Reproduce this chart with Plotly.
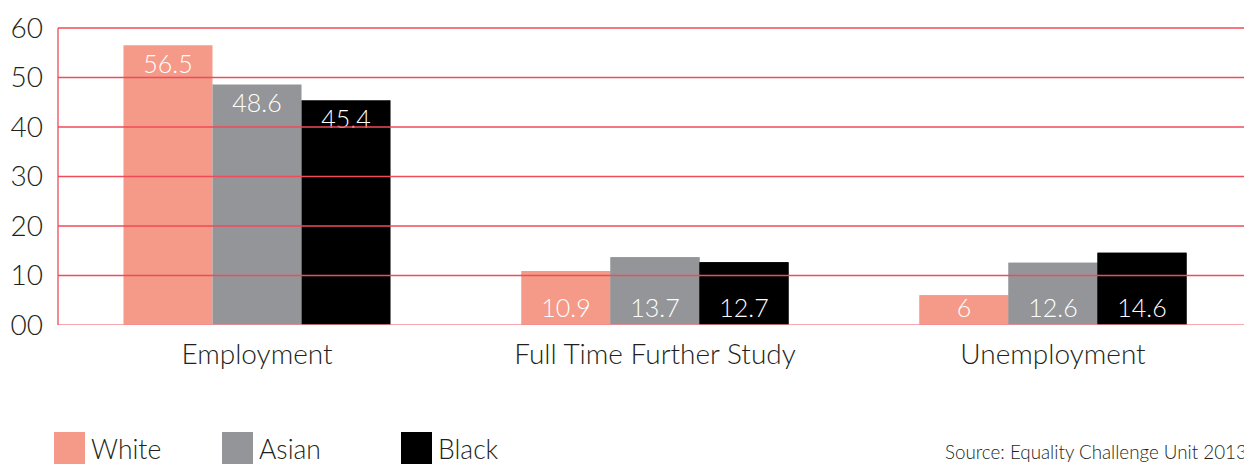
import plotly.graph_objects as go

categories = ["Employment", "Full Time Further Study", "Unemployment"]
series_names = ["White", "Asian", "Black"]
white = [56.5, 10.9, 6]
asian = [48.6, 13.7, 12.6]
black = [45.4, 12.7, 14.6]
tick_vals = [0, 10, 20, 30, 40, 50, 60]
tick_text = ["00", "10", "20", "30", "40", "50", "60"]
source_text = "Source: Equality Challenge Unit 2013"

colors = ["#f59a88", "#939598", "#000000"]
values = [white, asian, black]

# page body adds an 8px margin, so figure coords = screen coords - 8
OFF = 8
W, H = 1252, 464
ML, MR, MT, MB = 58 - OFF, OFF, 28 - OFF - 2, H - (325 - OFF)
PW, PH = W - ML - MR, H - MT - MB

def px_x(p):
    return (p - OFF - ML) / PW

def px_y(p):
    return (H - MB - (p - OFF)) / PH

FONT = "Lato"
TXT = "#231f20"
GRID = "#ef4b5a"

fig = go.Figure()

def fmt(v):
    return f"{v:g}"

for name, vals, col in zip(series_names, values, colors):
    # first category: label anchored at the top of the bar
    fig.add_trace(go.Bar(
        x=categories, y=vals, name=name, marker=dict(color=col, line=dict(width=0)),
        offsetgroup=name,
        text=[fmt(vals[0]), "", ""], textposition="inside", insidetextanchor="end",
        textangle=0, constraintext="none",
        textfont=dict(family=FONT, size=25, color="white", weight=300),
        hoverinfo="skip", showlegend=False,
    ))
    # other categories: label anchored at the bottom of the bar
    fig.add_trace(go.Bar(
        x=categories[1:], y=vals[1:], name=name, marker=dict(color=col, line=dict(width=0)),
        offsetgroup=name,
        text=[fmt(v) for v in vals[1:]], textposition="inside", insidetextanchor="start",
        textangle=0, constraintext="none",
        textfont=dict(family=FONT, size=25, color="white", weight=300),
        hoverinfo="skip", showlegend=False,
    ))

shapes = []
for tv in tick_vals:
    shapes.append(dict(type="line", xref="paper", yref="y", x0=0, x1=1, y0=tv, y1=tv,
                       line=dict(color=GRID if tv else "#f38a94", width=1.3), layer="above"))
shapes.append(dict(type="line", xref="paper", yref="y", x0=0, x1=0, y0=0, y1=tick_vals[-1],
                   line=dict(color=GRID, width=1.3), layer="above"))

annotations = []
legend_x = [54, 222, 401]
for lx, name, col in zip(legend_x, series_names, colors):
    shapes.append(dict(type="rect", xref="paper", yref="paper",
                       x0=px_x(lx), x1=px_x(lx + 31), y0=px_y(432), y1=px_y(475),
                       fillcolor=col, line=dict(width=0), layer="above"))
    annotations.append(dict(xref="paper", yref="paper", x=px_x(lx + 35), y=px_y(449),
                            xanchor="left", yanchor="middle", text=name, showarrow=False,
                            font=dict(family=FONT, size=26.5, color=TXT, weight=300)))
annotations.append(dict(xref="paper", yref="paper", x=px_x(943), y=px_y(451),
                        xanchor="left", yanchor="middle", text=source_text, showarrow=False,
                        font=dict(family=FONT, size=18.8, color=TXT, weight=300)))

fig.update_layout(
    width=W, height=H,
    margin=dict(l=ML, r=MR, t=MT, b=MB, pad=0),
    paper_bgcolor="white", plot_bgcolor="white",
    barmode="group", bargap=0.329, bargroupgap=0,
    showlegend=False,
    shapes=shapes, annotations=annotations,
    font=dict(family=FONT, color=TXT),
)
fig.update_xaxes(range=[-0.5, 2.5], showgrid=False, showline=False, zeroline=False,
                 automargin=False,
                 tickfont=dict(family=FONT, size=28, color=TXT, weight=300),
                 ticks="", ticklabelstandoff=10)
fig.update_yaxes(range=[0, 60.4], tickvals=tick_vals, ticktext=tick_text,
                 showgrid=False, zeroline=False, showline=False, automargin=False,
                 tickfont=dict(family=FONT, size=28, color=TXT, weight=300),
                 ticks="", ticklabelstandoff=14)

fig.write_html("out.html")
